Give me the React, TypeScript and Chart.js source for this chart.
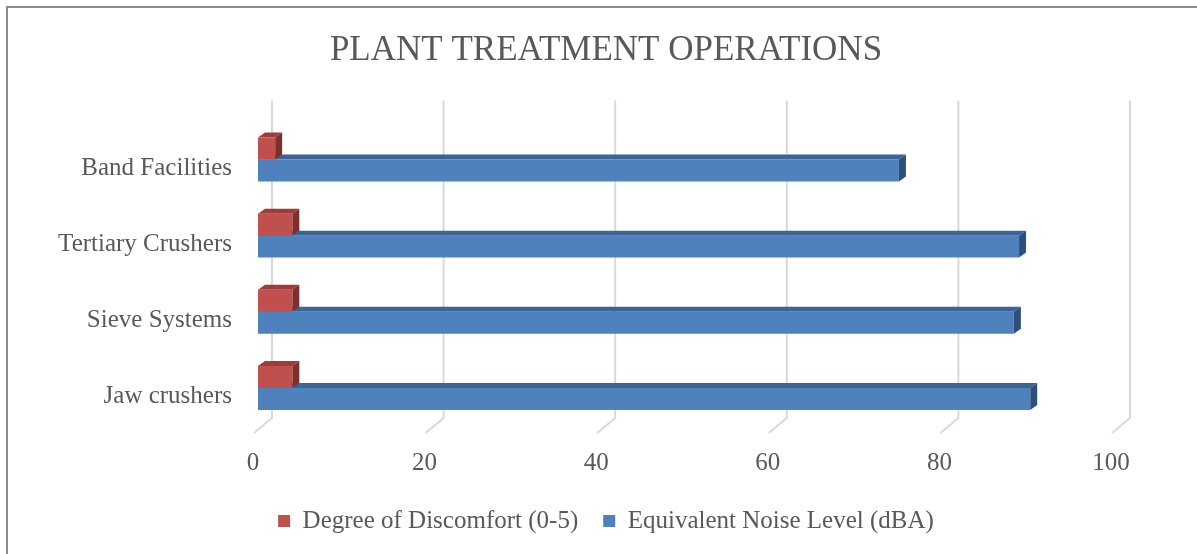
import React, { useEffect, useRef } from "react";
import { Chart, registerables } from "chart.js";

Chart.register(...registerables);

const categories = ["Band Facilities", "Tertiary Crushers", "Sieve Systems", "Jaw crushers"];
const discomfort = [2, 4, 4, 4];
const noiseLevel = [74.7, 88.7, 88.1, 90];
const xTickValues = [0, 20, 40, 60, 80, 100];
const seriesNames = ["Degree of Discomfort (0-5)", "Equivalent Noise Level (dBA)"];

const W = 1212;
const H = 554;
const FONT = "'Liberation Serif', 'Times New Roman', serif";
const TEXT = "#595959";

const faceColors = ["#c0504d", "#4f81bd"];
const topColors = ["#9c3d3a", "#3d6496"];
const sideColors = ["#7e2f2d", "#2d4f7b"];
const DX = 7;
const DY = -5;

const framePlugin = {
  id: "frame",
  beforeDraw(chart: any) {
    const ctx = chart.ctx;
    ctx.save();
    ctx.fillStyle = "#ffffff";
    ctx.fillRect(0, 0, chart.width, chart.height);
    ctx.strokeStyle = "#8c8c8c";
    ctx.lineWidth = 2;
    ctx.strokeRect(7, 7, chart.width + 50, chart.height + 50);
    ctx.restore();
  },
};

const depthPlugin = {
  id: "depth3d",
  beforeDatasetsDraw(chart: any) {
    const ctx = chart.ctx;
    const area = chart.chartArea;
    const xs = chart.scales.x;
    ctx.save();
    ctx.strokeStyle = "#d9d9d9";
    ctx.lineWidth = 2;
    xTickValues.forEach((v) => {
      const px = xs.getPixelForValue(v);
      ctx.beginPath();
      ctx.moveTo(px + 14, area.top - 21);
      ctx.lineTo(px + 14, area.bottom - 8);
      ctx.lineTo(px - 4, area.bottom + 7);
      ctx.stroke();
    });
    for (let d = chart.data.datasets.length - 1; d >= 0; d--) {
      const meta = chart.getDatasetMeta(d);
      meta.data.forEach((el: any) => {
        const { x, y, base, height } = el.getProps(["x", "y", "base", "height"], true);
        const top = y - height / 2;
        const bottom = y + height / 2;
        const left = Math.min(x, base);
        const right = Math.max(x, base);
        ctx.fillStyle = topColors[d];
        ctx.beginPath();
        ctx.moveTo(left, top);
        ctx.lineTo(left + DX, top + DY);
        ctx.lineTo(right + DX, top + DY);
        ctx.lineTo(right, top);
        ctx.closePath();
        ctx.fill();
        ctx.fillStyle = sideColors[d];
        ctx.beginPath();
        ctx.moveTo(right, top);
        ctx.lineTo(right + DX, top + DY);
        ctx.lineTo(right + DX, bottom + DY);
        ctx.lineTo(right, bottom);
        ctx.closePath();
        ctx.fill();
      });
    }
    ctx.restore();
  },
};

export default function App() {
  const ref = useRef<HTMLCanvasElement>(null);
  useEffect(() => {
    if (!ref.current) return;
    const chart = new Chart(ref.current, {
      type: "bar",
      data: {
        labels: categories,
        datasets: [
          {
            label: seriesNames[0],
            data: discomfort,
            backgroundColor: faceColors[0],
            borderWidth: 0,
            barPercentage: 1,
            categoryPercentage: 0.577,
          },
          {
            label: seriesNames[1],
            data: noiseLevel,
            backgroundColor: faceColors[1],
            borderWidth: 0,
            barPercentage: 1,
            categoryPercentage: 0.577,
          },
        ],
      },
      options: {
        indexAxis: "y",
        animation: false,
        responsive: false,
        devicePixelRatio: 1,
        layout: { padding: { top: 0, bottom: 10.5, left: 0, right: 0 } },
        scales: {
          x: {
            min: 0,
            max: 100,
            ticks: {
              stepSize: 20,
              color: TEXT,
              font: { family: FONT, size: 25 },
              padding: 22,
              labelOffset: -5,
            },
            grid: { display: false, drawTicks: false },
            border: { display: false },
            afterFit: (s: any) => {
              s.height = 57.5;
            },
          },
          y: {
            ticks: {
              color: TEXT,
              font: { family: FONT, size: 25 },
              padding: 26,
              labelOffset: 9,
            },
            grid: { display: false, drawTicks: false },
            border: { display: false },
            afterFit: (s: any) => {
              s.width = 258;
            },
          },
          y2: {
            type: "linear",
            position: "right",
            display: true,
            ticks: { display: false },
            grid: { display: false, drawTicks: false },
            border: { display: false },
            afterFit: (s: any) => {
              s.width = W - 1116;
            },
          },
        },
        plugins: {
          title: {
            display: true,
            text: "PLANT TREATMENT OPERATIONS",
            color: TEXT,
            font: { family: FONT, size: 35, weight: "normal" },
            padding: { top: 30, bottom: 49.4 },
          },
          legend: {
            position: "bottom",
            labels: {
              color: TEXT,
              font: { family: FONT, size: 25 },
              boxWidth: 12,
              boxHeight: 12,
              padding: 25,
            },
          },
          tooltip: { enabled: false },
        },
      },
      plugins: [framePlugin, depthPlugin],
    });
    return () => chart.destroy();
  }, []);
  return (
    <div style={{ position: "absolute", left: 0, top: 0, width: 1197, height: 554, overflow: "hidden", background: "#fff" }}>
      <canvas ref={ref} width={W} height={H} style={{ width: W, height: H, display: "block" }} />
    </div>
  );
}
